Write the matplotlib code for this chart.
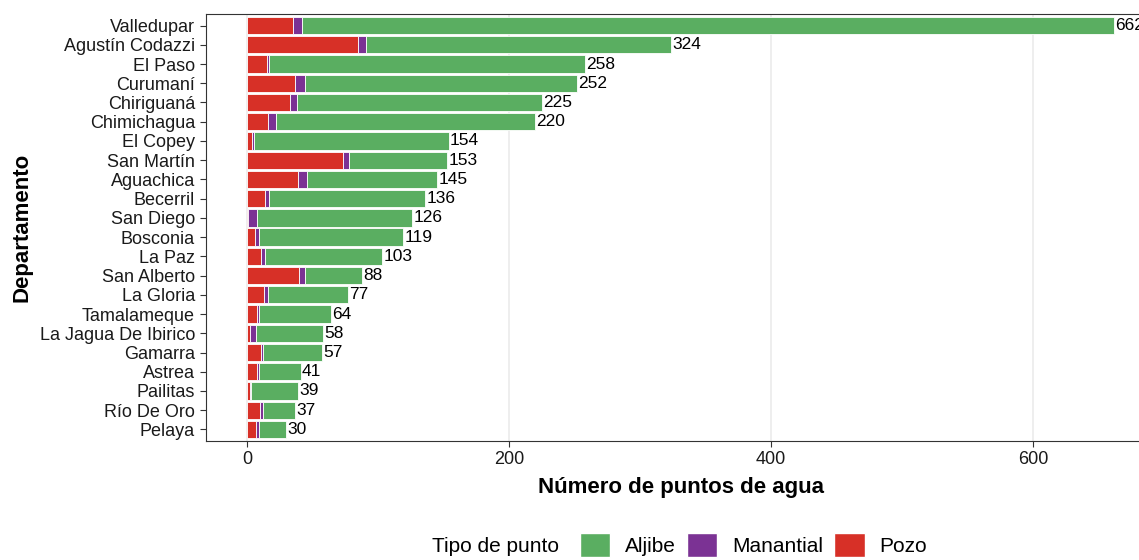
import matplotlib.pyplot as plt
from matplotlib.patches import Patch
import numpy as np

plt.rcParams['font.family'] = ['Liberation Sans', 'DejaVu Sans']

# datos (orden de arriba hacia abajo)
municipios = ['Valledupar', 'Agustín Codazzi', 'El Paso', 'Curumaní', 'Chiriguaná',
              'Chimichagua', 'El Copey', 'San Martín', 'Aguachica', 'Becerril',
              'San Diego', 'Bosconia', 'La Paz', 'San Alberto', 'La Gloria',
              'Tamalameque', 'La Jagua De Ibirico', 'Gamarra', 'Astrea', 'Pailitas',
              'Río De Oro', 'Pelaya']
totales = [662, 324, 258, 252, 225, 220, 154, 153, 145, 136, 126, 119, 103, 88, 77,
           64, 58, 57, 41, 39, 37, 30]
pozo = [35, 85, 15, 37, 33, 16, 4, 73, 39, 14, 1, 6, 11, 40, 13, 8, 2, 11, 8, 2, 10, 7]
manantial = [7, 6, 2, 7, 5, 6, 1, 5, 7, 3, 7, 3, 3, 4, 3, 1, 5, 1, 1, 1, 2, 2]
aljibe = [t - p - m for t, p, m in zip(totales, pozo, manantial)]

colores = {'Aljibe': '#5AAE61', 'Manantial': '#7B3294', 'Pozo': '#D73027'}

fig = plt.figure(figsize=(11.39, 5.6), dpi=100)
ax = fig.add_axes([206 / 1139, 1 - 441 / 560, (1157 - 206) / 1139, (441 - 14) / 560])

y = np.arange(len(municipios))[::-1] + 1
kw = dict(height=0.9, edgecolor='white', linewidth=0.6, zorder=3)
ax.barh(y, pozo, color=colores['Pozo'], **kw)
ax.barh(y, manantial, left=pozo, color=colores['Manantial'], **kw)
ax.barh(y, aljibe, left=np.array(pozo) + np.array(manantial), color=colores['Aljibe'], **kw)

for yi, t in zip(y, totales):
    ax.text(t + 1, yi, str(t), va='center', ha='left', fontsize=12.5, color='black',
            clip_on=False, zorder=4)

ax.set_xlim(-31.3, 694.7)
ax.set_ylim(0.4, len(municipios) + 0.6)
ax.set_yticks(y)
ax.set_yticklabels(municipios, fontsize=13, color='#1a1a1a')
ax.set_xticks([0, 200, 400, 600])
ax.tick_params(axis='x', labelsize=13, labelcolor='#1a1a1a', color='#333333', length=4)
ax.tick_params(axis='y', color='#333333', length=4, pad=4)
ax.grid(axis='x', color='#ebebeb', linewidth=1.2, zorder=0)
for s in ax.spines.values():
    s.set_color('#333333')
    s.set_linewidth(0.8)

ax.set_xlabel('Número de puntos de agua', fontsize=16, fontweight='bold', labelpad=6)
ax.set_ylabel('Departamento', fontsize=16, fontweight='bold', labelpad=5)

# leyenda abajo
handles = [Patch(facecolor=colores[k], edgecolor='white', label=k)
           for k in ['Aljibe', 'Manantial', 'Pozo']]
fig.text(432 / 1139, 1 - 546 / 560, 'Tipo de punto', fontsize=15, va='center', ha='left')
fig.legend(handles=handles, loc='center left', bbox_to_anchor=(580 / 1139, 1 - 545 / 560),
           ncol=3, frameon=False, fontsize=15, handlelength=1.45, handleheight=1.45,
           handletextpad=0.7, columnspacing=0.55, borderaxespad=0, borderpad=0)

fig.savefig('out.png', dpi=100)
